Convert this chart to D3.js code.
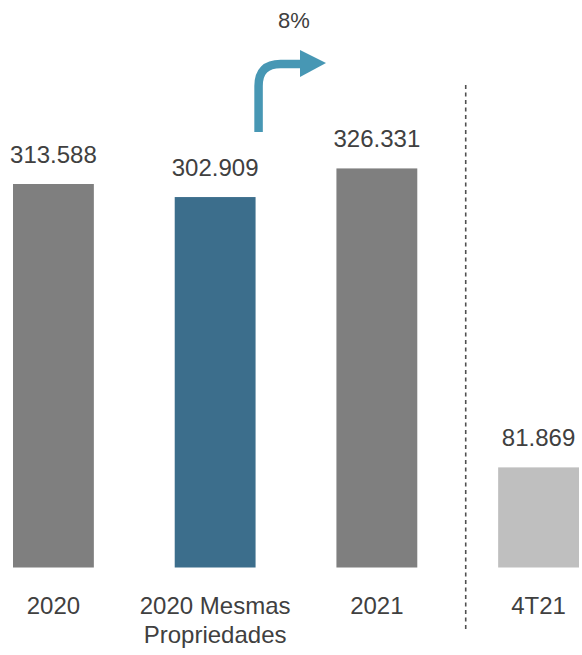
<!DOCTYPE html>
<html>
<head>
<meta charset="utf-8">
<script src="https://cdn.jsdelivr.net/npm/d3@7"></script>
<style>
  html, body { margin: 0; padding: 0; background: #ffffff; }
  svg { display: block; }
  text { font-family: "Liberation Sans", Arial, sans-serif; fill: #404040; }
</style>
</head>
<body>
<script>
// Receitas: 2020, 2020 mesmas propriedades, 2021 and the 4T21 quarter
const categories = ["2020", "2020 Mesmas\nPropriedades", "2021", "4T21"];
const values = [313.588, 302.909, 326.331, 81.869];
const valueLabels = ["313.588", "302.909", "326.331", "81.869"];
const barColors = ["#7f7f7f", "#3c6e8c", "#7f7f7f", "#bfbfbf"];
const growthLabel = "8%";

const width = 582, height = 655;
const baseline = 567.5;

const svg = d3.select("body").append("svg")
  .attr("width", width).attr("height", height);

const x = d3.scaleBand()
  .domain(categories)
  .range([13, 579])
  .paddingInner(0.5)
  .paddingOuter(0);

const y = d3.scaleLinear()
  .domain([0, 313.588])
  .range([baseline, 184]);

// bars
svg.selectAll("rect.bar")
  .data(values)
  .join("rect")
  .attr("class", "bar")
  .attr("x", (d, i) => x(categories[i]))
  .attr("width", x.bandwidth())
  .attr("y", d => y(d))
  .attr("height", d => baseline - y(d))
  .attr("fill", (d, i) => barColors[i]);

// value labels
svg.selectAll("text.value")
  .data(values)
  .join("text")
  .attr("class", "value")
  .attr("x", (d, i) => x(categories[i]) + x.bandwidth() / 2)
  .attr("y", d => y(d) - 21.5)
  .attr("text-anchor", "middle")
  .style("font-size", "24px")
  .text((d, i) => valueLabels[i]);

// category labels (multi-line)
const cat = svg.selectAll("text.cat")
  .data(categories)
  .join("text")
  .attr("class", "cat")
  .attr("x", d => x(d) + x.bandwidth() / 2)
  .attr("y", 613.5)
  .attr("text-anchor", "middle")
  .style("font-size", "24px");
cat.each(function(d) {
  const lines = d.split("\n");
  const t = d3.select(this);
  lines.forEach((ln, k) => {
    t.append("tspan")
      .attr("x", x(d) + x.bandwidth() / 2)
      .attr("dy", k === 0 ? 0 : 29)
      .text(ln);
  });
});

// dashed separator between the annual bars and the quarter
const sepX = (x(categories[2]) + x.bandwidth() + x(categories[3])) / 2 + 8;
svg.append("line")
  .attr("x1", sepX).attr("x2", sepX)
  .attr("y1", 85).attr("y2", 630)
  .attr("stroke", "#505050")
  .attr("stroke-width", 1.6)
  .attr("stroke-dasharray", "4,3.5");

// growth arrow rising from the same-properties bar
const ax = x(categories[1]) + x.bandwidth() + 3;
const arrowColor = "#4797b4";
const ay0 = 132, ay1 = 64, r = 22, headX = 300;
svg.append("path")
  .attr("d", `M${ax},${ay0} L${ax},${ay1 + r} Q${ax},${ay1} ${ax + r},${ay1} L${headX + 2},${ay1}`)
  .attr("fill", "none")
  .attr("stroke", arrowColor)
  .attr("stroke-width", 8.5);
svg.append("path")
  .attr("d", `M${headX},${ay1 - 14} L${headX + 26},${ay1 - 1} L${headX},${ay1 + 13} Z`)
  .attr("fill", arrowColor);

svg.append("text")
  .attr("x", 294)
  .attr("y", 27.5)
  .attr("text-anchor", "middle")
  .style("font-size", "22px")
  .text(growthLabel);
</script>
</body>
</html>
